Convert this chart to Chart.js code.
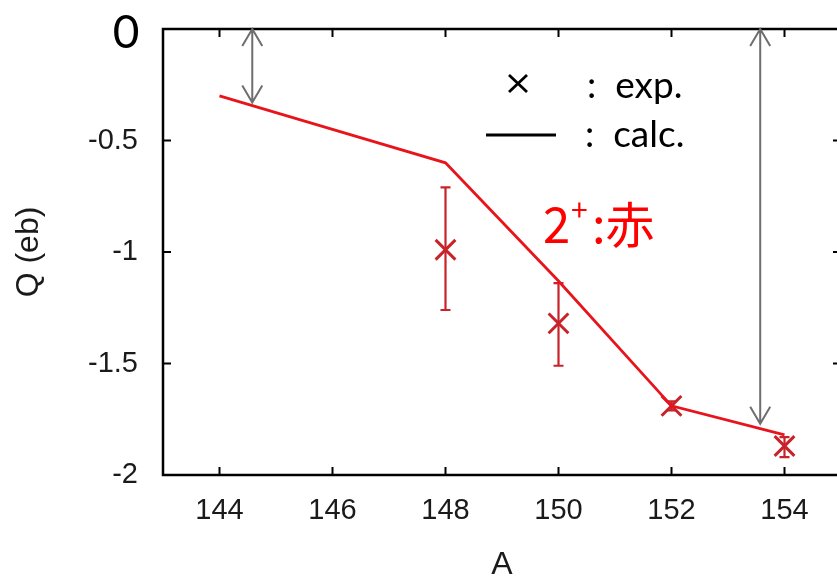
<!DOCTYPE html>
<html>
<head>
<meta charset="utf-8">
<script src="https://cdn.jsdelivr.net/npm/chart.js@4.4.1/dist/chart.umd.min.js"></script>
<style>
  html, body { margin: 0; padding: 0; background: #fff; overflow: hidden; }
  #wrap { width: 837px; height: 579px; overflow: hidden; position: relative; }
  #qChart { position: absolute; left: 0; top: 0; width: 850px; height: 579px; }
</style>
</head>
<body>
<div id="wrap"><canvas id="qChart" width="850" height="579"></canvas></div>
<script>
// mass number A and Q tick values
const xTicks = [144, 146, 148, 150, 152, 154];
const yTicks = [-2, -1.5, -1, -0.5, 0];

// calculated Q moments (solid line)
const calcA = [144, 146, 148, 150, 152, 154];
const calcQ = [-0.30, -0.45, -0.60, -1.13, -1.69, -1.82];

// measured Q moments with error bars
const expA = [148, 150, 152, 154];
const expQ = [-0.99, -1.32, -1.69, -1.87];
const expLo = [-1.26, -1.51, -1.71, -1.92];
const expHi = [-0.71, -1.14, -1.67, -1.83];

// double arrows from Q = 0 down to the curve
const arrowA = [144.58, 153.57];
const arrowQ = [-0.33, -1.77];

const RED_CALC = '#e8141c';
const RED_EXP = '#c8232a';
const TICK_FONT = { family: 'Liberation Sans', size: 29 };
const TITLE_FONT = { family: 'Liberation Sans', size: 32, lineHeight: 1 };

// box around the plot with inward ticks on all four sides
const frame = {
  id: 'frame',
  afterDatasetsDraw(chart) {
    const { ctx, chartArea: a, scales: { x, y } } = chart;
    ctx.save();
    ctx.strokeStyle = '#000';
    ctx.lineWidth = 2.5;
    ctx.strokeRect(a.left, a.top, a.right - a.left, a.bottom - a.top);
    ctx.lineWidth = 2;
    ctx.beginPath();
    xTicks.forEach(v => {
      const px = x.getPixelForValue(v);
      ctx.moveTo(px, a.bottom); ctx.lineTo(px, a.bottom - 8);
      ctx.moveTo(px, a.top); ctx.lineTo(px, a.top + 8);
    });
    yTicks.forEach(v => {
      const py = y.getPixelForValue(v);
      ctx.moveTo(a.left, py); ctx.lineTo(a.left + 8, py);
      ctx.moveTo(a.right, py); ctx.lineTo(a.right - 8, py);
    });
    ctx.stroke();
    ctx.restore();
  }
};

// vertical error bars with small caps
const errorBars = {
  id: 'errorBars',
  beforeDatasetsDraw(chart) {
    const { ctx, scales: { x, y } } = chart;
    ctx.save();
    ctx.strokeStyle = RED_EXP;
    ctx.lineWidth = 2.2;
    ctx.beginPath();
    expA.forEach((a, i) => {
      const px = x.getPixelForValue(a);
      const lo = y.getPixelForValue(expLo[i]);
      const hi = y.getPixelForValue(expHi[i]);
      ctx.moveTo(px, lo); ctx.lineTo(px, hi);
      ctx.moveTo(px - 5, lo); ctx.lineTo(px + 5, lo);
      ctx.moveTo(px - 5, hi); ctx.lineTo(px + 5, hi);
    });
    ctx.stroke();
    ctx.restore();
  }
};

function arrowHead(ctx, x, y, dir) {
  ctx.moveTo(x - 10, y + dir * 17);
  ctx.lineTo(x, y);
  ctx.lineTo(x + 10, y + dir * 17);
}

// gray arrows, legend and labels
const notes = {
  id: 'notes',
  afterDraw(chart) {
    const { ctx, scales: { x, y } } = chart;
    ctx.save();

    ctx.strokeStyle = '#6e6e6e';
    ctx.lineWidth = 2;
    ctx.beginPath();
    arrowA.forEach((a, i) => {
      const px = x.getPixelForValue(a);
      const top = y.getPixelForValue(0);
      const bot = y.getPixelForValue(arrowQ[i]);
      ctx.moveTo(px, top); ctx.lineTo(px, bot);
      arrowHead(ctx, px, top, 1);
      arrowHead(ctx, px, bot, -1);
    });
    ctx.stroke();

    // big zero at the top of the Q axis
    ctx.fillStyle = '#000';
    ctx.font = '46px Lato';
    ctx.textAlign = 'center';
    ctx.textBaseline = 'alphabetic';
    ctx.fillText('0', 126, 48);

    // legend
    ctx.strokeStyle = '#000';
    ctx.lineWidth = 2.8;
    ctx.beginPath();
    ctx.moveTo(509, 75); ctx.lineTo(527, 92);
    ctx.moveTo(527, 75); ctx.lineTo(509, 92);
    ctx.moveTo(486, 135); ctx.lineTo(556, 135);
    ctx.stroke();
    ctx.font = '37px Lato';
    ctx.textAlign = 'left';
    ctx.fillText(':  exp.', 587, 98);
    ctx.fillText(':  calc.', 585, 147);

    // state label
    ctx.fillStyle = '#ff0000';
    ctx.font = '49px "Noto Sans CJK JP"';
    ctx.fillText('2', 543, 243);
    ctx.font = '30px "Noto Sans CJK JP"';
    ctx.fillText('+', 571, 221);
    ctx.font = '49px "Noto Sans CJK JP"';
    ctx.fillText(':赤', 592, 243);

    ctx.restore();
  }
};

// keep the plot box exactly where the axes are sized, no label overhang
function fixPadding(s) {
  s.paddingTop = 0;
  s.paddingBottom = 0;
  s.paddingLeft = 0;
  s.paddingRight = 0;
}

const ctx = document.getElementById('qChart').getContext('2d');
new Chart(ctx, {
  type: 'scatter',
  data: {
    datasets: [
      {
        label: 'calc.',
        type: 'line',
        data: calcA.map((a, i) => ({ x: a, y: calcQ[i] })),
        borderColor: RED_CALC,
        borderWidth: 2.8,
        pointRadius: 0,
        fill: false,
        tension: 0,
        order: 0
      },
      {
        label: 'exp.',
        data: expA.map((a, i) => ({ x: a, y: expQ[i] })),
        pointStyle: 'crossRot',
        pointRadius: 14,
        borderColor: RED_EXP,
        backgroundColor: 'transparent',
        borderWidth: 3,
        order: 1
      }
    ]
  },
  options: {
    responsive: false,
    animation: false,
    events: [],
    layout: { autoPadding: false, padding: { top: 29, right: 9, left: 0, bottom: 0 } },
    plugins: { legend: { display: false }, tooltip: { enabled: false } },
    scales: {
      x: {
        type: 'linear',
        min: 143,
        max: 155,
        afterBuildTicks: s => { s.ticks = xTicks.map(v => ({ value: v })); },
        afterFit: s => { s.height = 104; fixPadding(s); },
        grid: { display: false, drawTicks: false },
        border: { display: false },
        ticks: { font: TICK_FONT, color: '#1a1a1a', padding: 19 },
        title: {
          display: true,
          text: 'A',
          font: TITLE_FONT,
          color: '#1a1a1a',
          padding: { top: 0, bottom: -2 }
        }
      },
      y: {
        type: 'linear',
        min: -2,
        max: 0,
        afterBuildTicks: s => { s.ticks = yTicks.map(v => ({ value: v })); },
        afterFit: s => { s.width = 163; fixPadding(s); },
        grid: { display: false, drawTicks: false },
        border: { display: false },
        ticks: {
          font: TICK_FONT,
          color: '#1a1a1a',
          padding: 25,
          callback: v => (v === 0 ? '' : String(v))
        },
        title: {
          display: true,
          text: 'Q (eb)',
          font: TITLE_FONT,
          color: '#1a1a1a',
          padding: { top: 13, bottom: 0 }
        }
      }
    }
  },
  plugins: [frame, errorBars, notes]
});
</script>
</body>
</html>
